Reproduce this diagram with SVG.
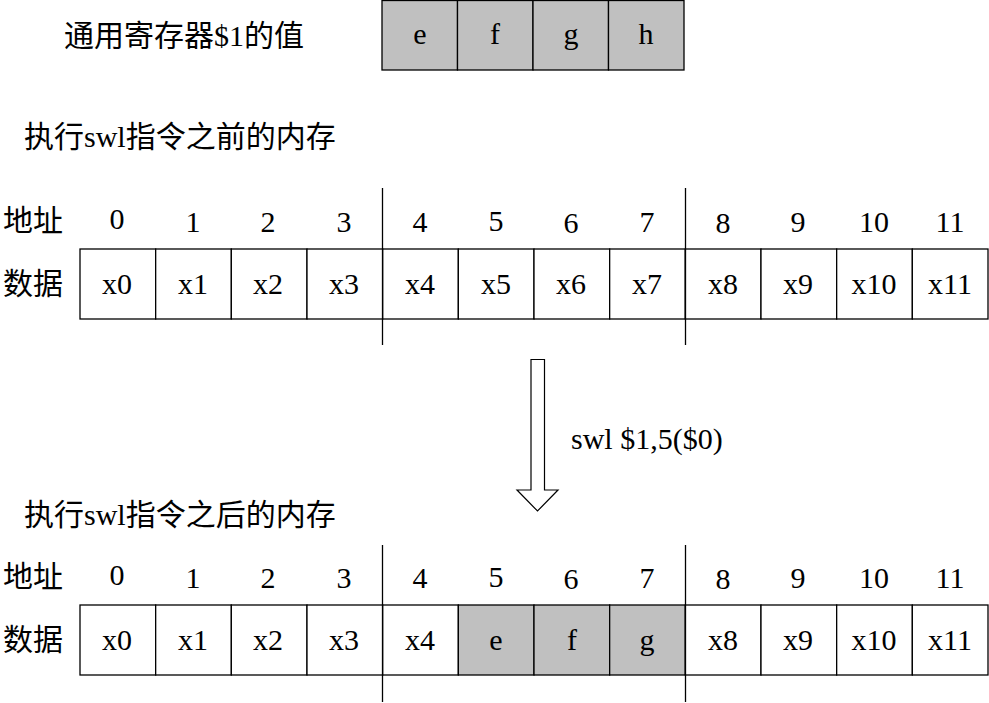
<svg xmlns="http://www.w3.org/2000/svg" width="989" height="703" viewBox="0 0 989 703">
<style>
text{font-family:"Liberation Serif","Noto Sans CJK SC",serif;font-size:30px;fill:#000}
.c{text-anchor:middle}
.cell{fill:#fff;stroke:#000;stroke-width:1.3}
.g{fill:#c0c0c0;stroke:#000;stroke-width:1.3}
.sep{stroke:#000;stroke-width:1.3}
</style>
<rect width="989" height="703" fill="#fff"/>

<g id="register">
<text x="64" y="46">通用寄存器$1的值</text>
<rect class="g" x="382" y="0.5" width="75.5" height="69.5"/>
<rect class="g" x="457.5" y="0.5" width="75.5" height="69.5"/>
<rect class="g" x="533" y="0.5" width="75.5" height="69.5"/>
<rect class="g" x="608.5" y="0.5" width="75.5" height="69.5"/>
<text class="c" x="420" y="44">e</text>
<text class="c" x="495" y="44">f</text>
<text class="c" x="571" y="44">g</text>
<text class="c" x="646" y="44">h</text>
</g>

<g id="before">
<text x="24" y="147">执行swl指令之前的内存</text>
<text x="3" y="231">地址</text>
<text x="3" y="294">数据</text>
<text class="c" x="117" y="229">0</text>
<text class="c" x="193" y="232">1</text>
<text class="c" x="268" y="232">2</text>
<text class="c" x="344" y="232">3</text>
<text class="c" x="420" y="232">4</text>
<text class="c" x="496" y="231">5</text>
<text class="c" x="571" y="233">6</text>
<text class="c" x="647" y="232">7</text>
<text class="c" x="723" y="233">8</text>
<text class="c" x="798" y="232">9</text>
<text class="c" x="874" y="232">10</text>
<text class="c" x="950" y="232">11</text>
<rect class="cell" x="80" y="249" width="75.67" height="70"/>
<rect class="cell" x="155.67" y="249" width="75.67" height="70"/>
<rect class="cell" x="231.33" y="249" width="75.67" height="70"/>
<rect class="cell" x="307" y="249" width="75.67" height="70"/>
<rect class="cell" x="382.67" y="249" width="75.67" height="70"/>
<rect class="cell" x="458.33" y="249" width="75.67" height="70"/>
<rect class="cell" x="534" y="249" width="75.67" height="70"/>
<rect class="cell" x="609.67" y="249" width="75.67" height="70"/>
<rect class="cell" x="685.33" y="249" width="75.67" height="70"/>
<rect class="cell" x="761" y="249" width="75.67" height="70"/>
<rect class="cell" x="836.67" y="249" width="75.67" height="70"/>
<rect class="cell" x="912.33" y="249" width="75.67" height="70"/>
<text class="c" x="117" y="294">x0</text>
<text class="c" x="193" y="294">x1</text>
<text class="c" x="268" y="294">x2</text>
<text class="c" x="344" y="294">x3</text>
<text class="c" x="420" y="294">x4</text>
<text class="c" x="496" y="294">x5</text>
<text class="c" x="571" y="294">x6</text>
<text class="c" x="647" y="294">x7</text>
<text class="c" x="723" y="294">x8</text>
<text class="c" x="798" y="294">x9</text>
<text class="c" x="874" y="294">x10</text>
<text class="c" x="950" y="294">x11</text>
<line class="sep" x1="382.5" y1="188" x2="382.5" y2="345"/>
<line class="sep" x1="685.5" y1="188" x2="685.5" y2="345"/>
</g>

<g id="connectors">
<path d="M531 359.5 H544.5 V490 H558 L537.5 511 L517 490 H531 Z" fill="#fff" stroke="#000" stroke-width="1.2"/>
<text x="571" y="449">swl $1,5($0)</text>
</g>

<g id="after">
<text x="24" y="525">执行swl指令之后的内存</text>
<text x="3" y="587">地址</text>
<text x="3" y="650">数据</text>
<text class="c" x="117" y="585">0</text>
<text class="c" x="193" y="588">1</text>
<text class="c" x="268" y="588">2</text>
<text class="c" x="344" y="588">3</text>
<text class="c" x="420" y="588">4</text>
<text class="c" x="496" y="587">5</text>
<text class="c" x="571" y="589">6</text>
<text class="c" x="647" y="588">7</text>
<text class="c" x="723" y="589">8</text>
<text class="c" x="798" y="588">9</text>
<text class="c" x="874" y="588">10</text>
<text class="c" x="950" y="588">11</text>
<rect class="cell" x="80" y="605" width="75.67" height="70"/>
<rect class="cell" x="155.67" y="605" width="75.67" height="70"/>
<rect class="cell" x="231.33" y="605" width="75.67" height="70"/>
<rect class="cell" x="307" y="605" width="75.67" height="70"/>
<rect class="cell" x="382.67" y="605" width="75.67" height="70"/>
<rect class="g" x="458.33" y="605" width="75.67" height="70"/>
<rect class="g" x="534" y="605" width="75.67" height="70"/>
<rect class="g" x="609.67" y="605" width="75.67" height="70"/>
<rect class="cell" x="685.33" y="605" width="75.67" height="70"/>
<rect class="cell" x="761" y="605" width="75.67" height="70"/>
<rect class="cell" x="836.67" y="605" width="75.67" height="70"/>
<rect class="cell" x="912.33" y="605" width="75.67" height="70"/>
<text class="c" x="117" y="650">x0</text>
<text class="c" x="193" y="650">x1</text>
<text class="c" x="268" y="650">x2</text>
<text class="c" x="344" y="650">x3</text>
<text class="c" x="420" y="650">x4</text>
<text class="c" x="496" y="650">e</text>
<text class="c" x="572" y="650">f</text>
<text class="c" x="647" y="650">g</text>
<text class="c" x="723" y="650">x8</text>
<text class="c" x="798" y="650">x9</text>
<text class="c" x="874" y="650">x10</text>
<text class="c" x="950" y="650">x11</text>
<line class="sep" x1="382.5" y1="545" x2="382.5" y2="702"/>
<line class="sep" x1="685.5" y1="545" x2="685.5" y2="702"/>
</g>
</svg>
